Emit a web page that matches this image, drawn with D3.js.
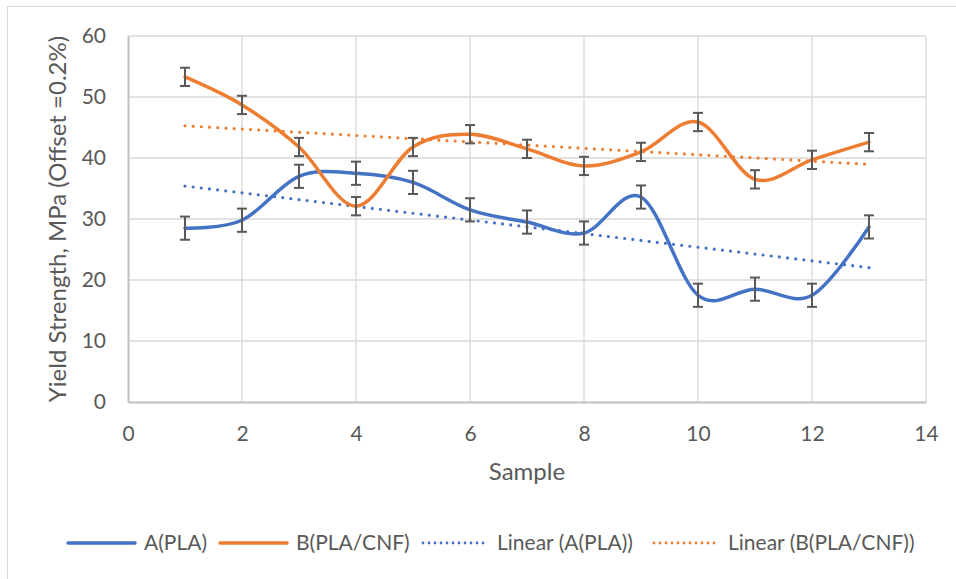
<!DOCTYPE html>
<html>
<head>
<meta charset="utf-8">
<script src="https://cdn.jsdelivr.net/npm/d3@7"></script>
<style>
  body { margin: 0; background: #fff; }
  text { font-family: Lato, "Open Sans", sans-serif; fill: #595959; }
</style>
</head>
<body>
<div id="chart"></div>
<script>
const samples = [1, 2, 3, 4, 5, 6, 7, 8, 9, 10, 11, 12, 13];
const seriesA = [28.5, 29.8, 37.0, 37.5, 36.0, 31.5, 29.5, 27.7, 33.6, 17.5, 18.5, 17.5, 28.7];
const seriesB = [53.3, 48.7, 41.8, 32.1, 41.8, 43.9, 41.5, 38.7, 41.0, 45.9, 36.5, 39.7, 42.6];
const errorA = 1.9;
const errorB = 1.5;
const xTicks = [0, 2, 4, 6, 8, 10, 12, 14];
const yTicks = [0, 10, 20, 30, 40, 50, 60];
const legendLabels = ["A(PLA)", "B(PLA/CNF)", "Linear (A(PLA))", "Linear (B(PLA/CNF))"];

const width = 956, height = 579;
const blue = "#4472C4", orange = "#ED7D31";

const svg = d3.select("#chart").append("svg")
  .attr("width", width)
  .attr("height", height);

// chart frame
svg.append("rect")
  .attr("x", 7.5).attr("y", 6.5)
  .attr("width", width).attr("height", height)
  .attr("fill", "none").attr("stroke", "#d9d9d9");

const x = d3.scaleLinear().domain([0, 14]).range([128, 926]);
const y = d3.scaleLinear().domain([0, 60]).range([402, 36]);

// gridlines
svg.append("g").selectAll("line.h").data(yTicks.slice(1)).join("line")
  .attr("x1", x(0)).attr("x2", x(14))
  .attr("y1", d => y(d)).attr("y2", d => y(d))
  .attr("stroke", "#d9d9d9").attr("stroke-width", 1.3);
svg.append("g").selectAll("line.v").data(xTicks.slice(1)).join("line")
  .attr("x1", d => x(d)).attr("x2", d => x(d))
  .attr("y1", y(0)).attr("y2", y(60))
  .attr("stroke", "#d9d9d9").attr("stroke-width", 1.3);

// axes
const xAxis = svg.append("g")
  .attr("transform", `translate(0,${y(0)})`)
  .call(d3.axisBottom(x).tickValues(xTicks).tickSize(0).tickPadding(22));
const yAxis = svg.append("g")
  .attr("transform", `translate(${x(0)},0)`)
  .call(d3.axisLeft(y).tickValues(yTicks).tickSize(0).tickPadding(22));
[xAxis, yAxis].forEach(g => {
  g.select(".domain").attr("stroke", "#bfbfbf").attr("stroke-width", 2);
  g.selectAll("text").attr("font-size", "21px").attr("font-family", null).style("fill", "#595959");
});
xAxis.selectAll("text").attr("dy", "0.35em").attr("y", 32);

// axis titles
svg.append("text")
  .attr("x", x(7)).attr("y", 472)
  .attr("dy", "0.35em")
  .attr("text-anchor", "middle")
  .attr("font-size", "24px")
  .text("Sample");
svg.append("text")
  .attr("transform", `translate(58,${y(30)}) rotate(-90)`)
  .attr("dy", "0.35em")
  .attr("text-anchor", "middle")
  .attr("font-size", "24px")
  .text("Yield Strength, MPa (Offset =0.2%)");

// linear trend from least squares, like the spreadsheet does
function trend(values) {
  const mx = d3.mean(samples), my = d3.mean(values);
  const slope = d3.sum(samples, (s, i) => (s - mx) * (values[i] - my)) /
    d3.sum(samples, s => (s - mx) * (s - mx));
  const b = my - slope * mx;
  return [samples[0], samples[samples.length - 1]].map(s => [s, b + slope * s]);
}

const trendLine = d3.line().x(d => x(d[0])).y(d => y(d[1]));
[[seriesA, blue], [seriesB, orange]].forEach(([vals, col]) => {
  svg.append("path")
    .attr("d", trendLine(trend(vals)))
    .attr("fill", "none")
    .attr("stroke", col)
    .attr("stroke-width", 3.2)
    .attr("stroke-linecap", "round")
    .attr("stroke-dasharray", "0 8.2");
});

// smoothed series lines
const smooth = d3.line()
  .x((d, i) => x(samples[i]))
  .y(d => y(d))
  .curve(d3.curveCardinal.tension(0));

[[seriesA, blue], [seriesB, orange]].forEach(([vals, col]) => {
  svg.append("path")
    .attr("d", smooth(vals))
    .attr("fill", "none")
    .attr("stroke", col)
    .attr("stroke-width", 3.5)
    .attr("stroke-linecap", "round");
});

// error bars
[[seriesA, errorA], [seriesB, errorB]].forEach(([vals, err]) => {
  const g = svg.append("g").attr("stroke", "#595959").attr("stroke-width", 2);
  vals.forEach((v, i) => {
    const cx = x(samples[i]);
    g.append("line").attr("x1", cx).attr("x2", cx).attr("y1", y(v - err)).attr("y2", y(v + err));
    g.append("line").attr("x1", cx - 5).attr("x2", cx + 5).attr("y1", y(v - err)).attr("y2", y(v - err));
    g.append("line").attr("x1", cx - 5).attr("x2", cx + 5).attr("y1", y(v + err)).attr("y2", y(v + err));
  });
});

// legend
const legendY = 543;
const legendItems = [
  { x: 68, color: blue, dotted: false },
  { x: 220, color: orange, dotted: false },
  { x: 421, color: blue, dotted: true },
  { x: 652, color: orange, dotted: true }
];
legendItems.forEach((item, i) => {
  svg.append("line")
    .attr("x1", item.x + (item.dotted ? 2 : 0)).attr("x2", item.x + 67)
    .attr("y1", legendY).attr("y2", legendY)
    .attr("stroke", item.color)
    .attr("stroke-width", item.dotted ? 2.8 : 3.5)
    .attr("stroke-linecap", "round")
    .attr("stroke-dasharray", item.dotted ? "0 6" : null);
  svg.append("text")
    .attr("x", item.x + 76).attr("y", legendY)
    .attr("dy", "0.35em")
    .attr("font-size", "21px")
    .text(legendLabels[i]);
});
</script>
</body>
</html>
